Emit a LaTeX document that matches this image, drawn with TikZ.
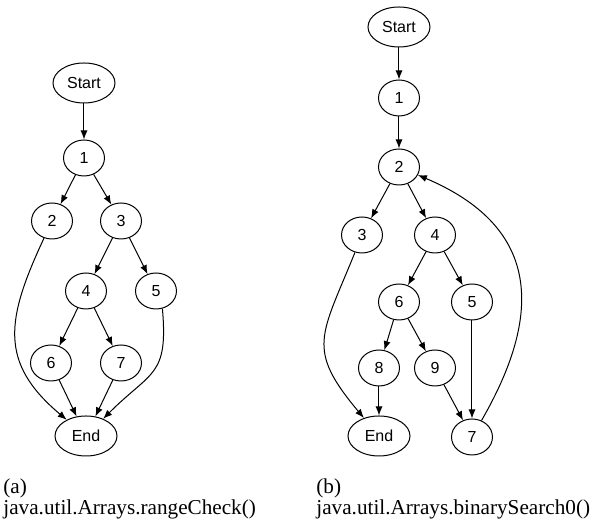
\documentclass[tikz,border=0pt]{standalone}
\usepackage{fontspec}
\setmainfont{Liberation Serif}
\newfontfamily\cfgfont{Liberation Sans}
\usetikzlibrary{shapes.geometric,arrows.meta}
\begin{document}
\begin{tikzpicture}[x=0.5pt,y=0.5pt]
  \tikzset{cfg node/.style={draw,ellipse,inner sep=0pt,line width=0.5pt,
             minimum width=20.5pt,minimum height=18pt,font=\cfgfont\fontsize{8}{9}\selectfont},
           cfg term/.style={cfg node,minimum width=31pt,minimum height=20pt},
           cfg edge/.style={-{Latex[length=4.5pt,width=3.5pt]},line width=0.5pt},
           caption/.style={anchor=base west,inner sep=0pt,align=left,
             font=\fontsize{10.6}{10.5}\selectfont}}
  \useasboundingbox (0,0) rectangle (591,523);

  % (a) rangeCheck
  \node [cfg term] (aS) at (84,440) {Start};
  \node [cfg node] (a1) at (84,365) {1};
  \node [cfg node] (a2) at (52,302) {2};
  \node [cfg node] (a3) at (121,302) {3};
  \node [cfg node] (a4) at (86,232) {4};
  \node [cfg node] (a5) at (156,232) {5};
  \node [cfg node] (a6) at (51,160) {6};
  \node [cfg node] (a7) at (121,160) {7};
  \node [cfg term] (aE) at (86,87) {End};

  \draw [cfg edge] (aS) -- (a1);
  \draw [cfg edge] (a1) -- (a2);
  \draw [cfg edge] (a1) -- (a3);
  \draw [cfg edge] (a3) -- (a4);
  \draw [cfg edge] (a3) -- (a5);
  \draw [cfg edge] (a4) -- (a6);
  \draw [cfg edge] (a4) -- (a7);
  \draw [cfg edge] (a6) -- (aE);
  \draw [cfg edge] (a7) -- (aE);
  \draw [cfg edge] (a2) to[out=-115,in=140,looseness=1.25] (aE);
  \draw [cfg edge] (a5.-70) to[out=-85,in=45,looseness=1.4] (aE);

  % (b) binarySearch0
  \node [cfg term] (bS) at (399,496) {Start};
  \node [cfg node] (b1) at (399,425) {1};
  \node [cfg node] (b2) at (399,356) {2};
  \node [cfg node] (b3) at (362,288) {3};
  \node [cfg node] (b4) at (435,288) {4};
  \node [cfg node] (b6) at (399,221) {6};
  \node [cfg node] (b5) at (472,221) {5};
  \node [cfg node] (b8) at (379,155) {8};
  \node [cfg node] (b9) at (435,155) {9};
  \node [cfg term] (bE) at (379,87) {End};
  \node [cfg node] (b7) at (472,86) {7};

  \draw [cfg edge] (bS) -- (b1);
  \draw [cfg edge] (b1) -- (b2);
  \draw [cfg edge] (b2) -- (b3);
  \draw [cfg edge] (b2) -- (b4);
  \draw [cfg edge] (b4) -- (b6);
  \draw [cfg edge] (b4) -- (b5);
  \draw [cfg edge] (b6) -- (b8);
  \draw [cfg edge] (b6) -- (b9);
  \draw [cfg edge] (b8) -- (bE);
  \draw [cfg edge] (b9) -- (b7);
  \draw [cfg edge] (b5) -- (b7);
  \draw [cfg edge] (b3) to[out=-112,in=130,looseness=1.4] (bE);
  \draw [cfg edge] (b7) to[out=60,in=-23,looseness=1.3] (b2);

  % captions
  \node [caption] (capA) at (3,8) {(a)\\java.util.Arrays.rangeCheck()};
  \node [caption] (capB) at (316,8) {(b)\\java.util.Arrays.binarySearch0()};
\end{tikzpicture}
\end{document}
